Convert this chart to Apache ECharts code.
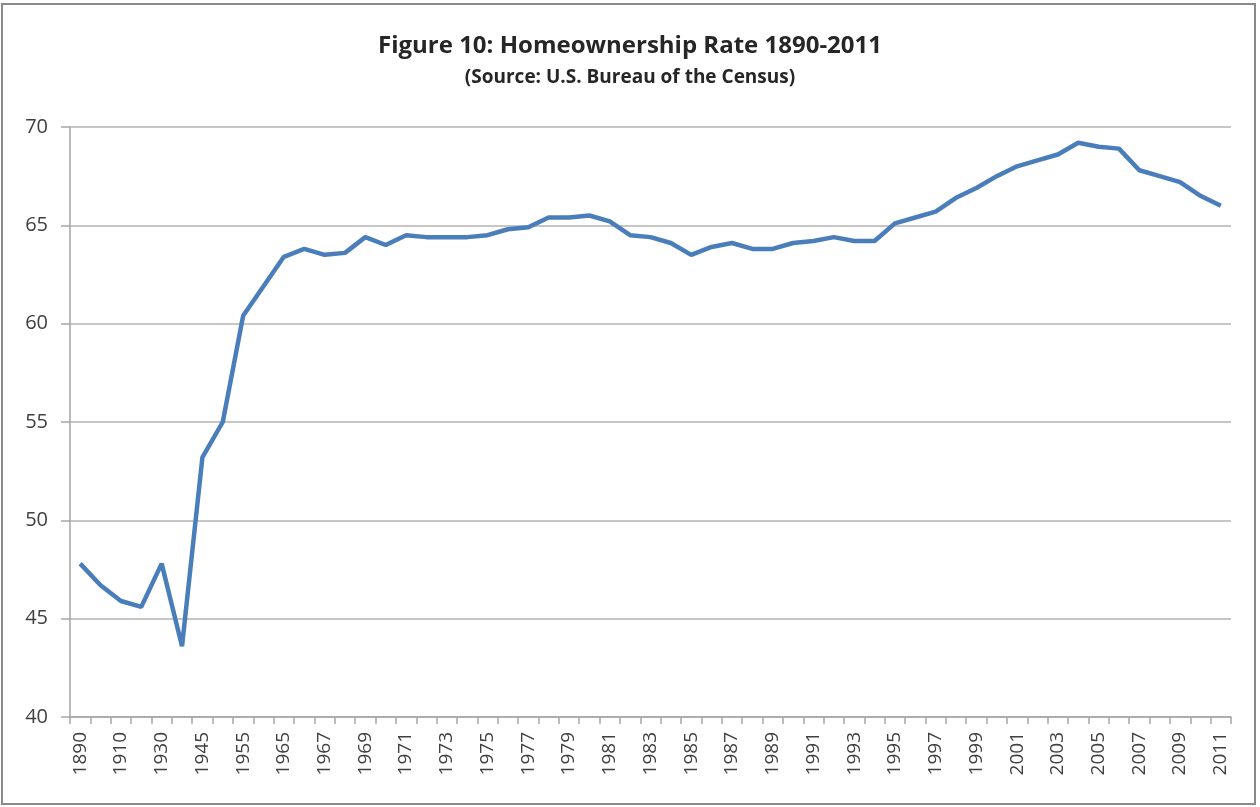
<!DOCTYPE html>
<html>
<head>
<meta charset="utf-8">
<title>Homeownership Rate 1890-2011</title>
<script src="https://cdn.jsdelivr.net/npm/echarts@6/dist/echarts.min.js"></script>
<style>
  html, body { margin: 0; padding: 0; background: #fff; }
  #chart { width: 1260px; height: 807px; }
</style>
</head>
<body>
<div id="chart"></div>
<script>
// years on the category axis
const years = [
  '1890', '1900', '1910', '1920', '1930', '1940', '1945', '1950', '1955', '1960',
  '1965', '1966', '1967', '1968', '1969', '1970', '1971', '1972', '1973', '1974',
  '1975', '1976', '1977', '1978', '1979', '1980', '1981', '1982', '1983', '1984',
  '1985', '1986', '1987', '1988', '1989', '1990', '1991', '1992', '1993', '1994',
  '1995', '1996', '1997', '1998', '1999', '2000', '2001', '2002', '2003', '2004',
  '2005', '2006', '2007', '2008', '2009', '2010', '2011',
]

// homeownership rate, percent
const rate = [
  47.8, 46.7, 45.9, 45.6, 47.8, 43.6, 53.2, 55.0, 60.4, 61.9,
  63.4, 63.8, 63.5, 63.6, 64.4, 64.0, 64.5, 64.4, 64.4, 64.4,
  64.5, 64.8, 64.9, 65.4, 65.4, 65.5, 65.2, 64.5, 64.4, 64.1,
  63.5, 63.9, 64.1, 63.8, 63.8, 64.1, 64.2, 64.4, 64.2, 64.2,
  65.1, 65.4, 65.7, 66.4, 66.9, 67.5, 68.0, 68.3, 68.6, 69.2,
  69.0, 68.9, 67.8, 67.5, 67.2, 66.5, 66.0,
]

const titleText = 'Figure 10: Homeownership Rate 1890-2011'
const subText = '(Source: U.S. Bureau of the Census)'

const chart = echarts.init(document.getElementById('chart'))

chart.setOption({
  animation: false,
  backgroundColor: '#fff',
  title: {
    left: 'center',
    top: 29,
    text: titleText,
    subtext: subText,
    itemGap: 10,
    textStyle: {
      fontFamily: 'Open Sans',
      fontWeight: 'bold',
      fontSize: 24,
      color: '#262626',
    },
    subtextStyle: {
      fontFamily: 'Open Sans',
      fontWeight: 'bold',
      fontSize: 19,
      color: '#262626',
    },
  },
  graphic: [{
    type: 'rect',
    shape: {x: 2, y: 4, width: 1253, height: 800},
    style: {fill: 'none', stroke: '#8a8a8a', lineWidth: 2},
    silent: true,
  }],
  grid: {
    left: 70,
    right: 29,
    top: 127,
    bottom: 90,
  },
  xAxis: {
    type: 'category',
    data: years,
    boundaryGap: true,
    axisLine: {
      lineStyle: {color: '#a6a6a6', width: 1.5},
    },
    axisTick: {
      show: true,
      interval: 0,
      length: 7,
      lineStyle: {color: '#a6a6a6', width: 1.5},
    },
    axisLabel: {
      interval: 1,
      rotate: 90,
      margin: 15,
      fontFamily: 'Open Sans',
      fontSize: 19,
      color: '#404040',
    },
  },
  yAxis: {
    type: 'value',
    min: 40,
    max: 70,
    interval: 5,
    axisLine: {
      show: true,
      lineStyle: {color: '#a6a6a6', width: 1.5},
    },
    axisTick: {
      show: true,
      length: 9,
      lineStyle: {color: '#a6a6a6', width: 1.5},
    },
    splitLine: {
      lineStyle: {color: '#b3b3b3', width: 1.5},
    },
    axisLabel: {
      margin: 22,
      fontFamily: 'Open Sans',
      fontSize: 20,
      color: '#404040',
    },
  },
  series: [{
    type: 'line',
    data: rate,
    symbol: 'none',
    lineStyle: {color: '#4a7ebb', width: 4.5},
  }],
})
</script>
</body>
</html>
